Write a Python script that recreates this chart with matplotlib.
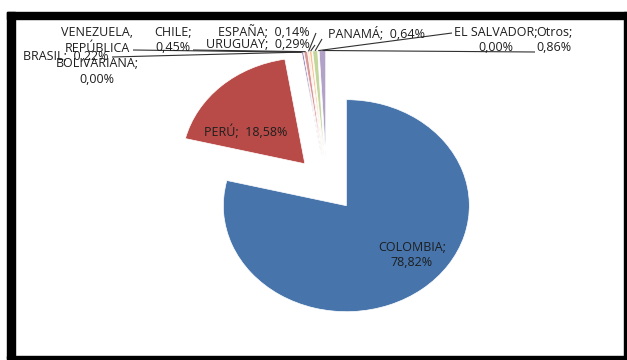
#%%
import matplotlib
matplotlib.use('Agg')
import matplotlib.pyplot as plt
from matplotlib.patches import Rectangle
import numpy as np

#%%
# data
paises = ['COLOMBIA', 'PERÚ', 'VENEZUELA, REPÚBLICA BOLIVARIANA', 'BRASIL', 'CHILE',
          'ESPAÑA', 'URUGUAY', 'PANAMÁ', 'EL SALVADOR', 'Otros']
porcentajes = [78.82, 18.58, 0.00, 0.22, 0.45, 0.14, 0.29, 0.64, 0.00, 0.86]
colores = ['#4674AB', '#B84B48', '#9BBB59', '#8C76B0', '#D99694',
           '#F2A56B', '#FAC090', '#C3D69B', '#93CDDD', '#B3A2C7']

# label text, as written on the chart
etiquetas = ['COLOMBIA;\n78,82%', 'PERÚ;  18,58%',
             'VENEZUELA,\nREPÚBLICA\nBOLIVARIANA;\n0,00%', 'BRASIL;  0,22%',
             'CHILE;\n0,45%', 'ESPAÑA;  0,14%', 'URUGUAY;  0,29%', 'PANAMÁ;  0,64%',
             'EL SALVADOR;\n0,00%', 'Otros;\n0,86%']

#%%
W, H = 627, 360
fig = plt.figure(figsize=(W / 100, H / 100), dpi=100)
plt.rcParams['font.family'] = ['Open Sans', 'DejaVu Sans']

# pie centre and radii in pixels (the original is stretched a bit)
cx, cy = 326.6, 184.0
rx, ry = 123.0, 106.0

ax = fig.add_axes([0, 0, 1, 1])
wedges, _ = ax.pie(porcentajes, colors=colores, startangle=90, counterclock=False,
                   explode=[0.26] * len(porcentajes), normalize=True,
                   wedgeprops=dict(linewidth=0.5, edgecolor='white'))
ax.set_aspect('auto')
ax.set_xlim(-cx / rx, (W - cx) / rx)
ax.set_ylim((cy - H) / ry, cy / ry)
ax.axis('off')


def px2data(px, py):
    return (px - cx) / rx, (cy - py) / ry


def borde(w):
    # outer point of a wedge at its middle angle
    ang = np.deg2rad((w.theta1 + w.theta2) / 2)
    return w.center[0] + w.r * np.cos(ang), w.center[1] + w.r * np.sin(ang)


txt = dict(ha='center', va='center', fontsize=9, color='#1e1e1e', linespacing=1.28)

# big slices, labels inside
ax.text(*px2data(412, 255), etiquetas[0], **txt)
ax.text(*px2data(246, 132), etiquetas[1], **txt)

# small slices: label position and leader start (pixels)
pos_etq = [(97, 56), (66, 56), (173, 40), (264, 32), (258, 45), (376, 34), (496, 40), (554, 40)]
inicio = [(133, 50), (112, 57), (193, 50), (316, 33), (315, 45), (322, 39), (452, 33), (535, 52)]

for i in range(2, len(porcentajes)):
    ax.text(*px2data(*pos_etq[i - 2]), etiquetas[i], **txt)
    x0, y0 = px2data(*inicio[i - 2])
    x1, y1 = borde(wedges[i])
    ax.plot([x0, x1], [y0, y1], color='#303030', lw=0.8, solid_capstyle='butt')

#%%
# black frame around the chart
def rect(x0, y0, x1, y1):
    fig.patches.append(Rectangle((x0 / W, 1 - y1 / H), (x1 - x0) / W, (y1 - y0) / H,
                                 transform=fig.transFigure, color='black', zorder=5))


rect(7, 12, W, 19)
rect(7, 12, 15, 359)
rect(624, 12, 626, 359)
rect(7, 356, 626, 358.5)

fig.savefig('out.png', dpi=100, facecolor='white')
